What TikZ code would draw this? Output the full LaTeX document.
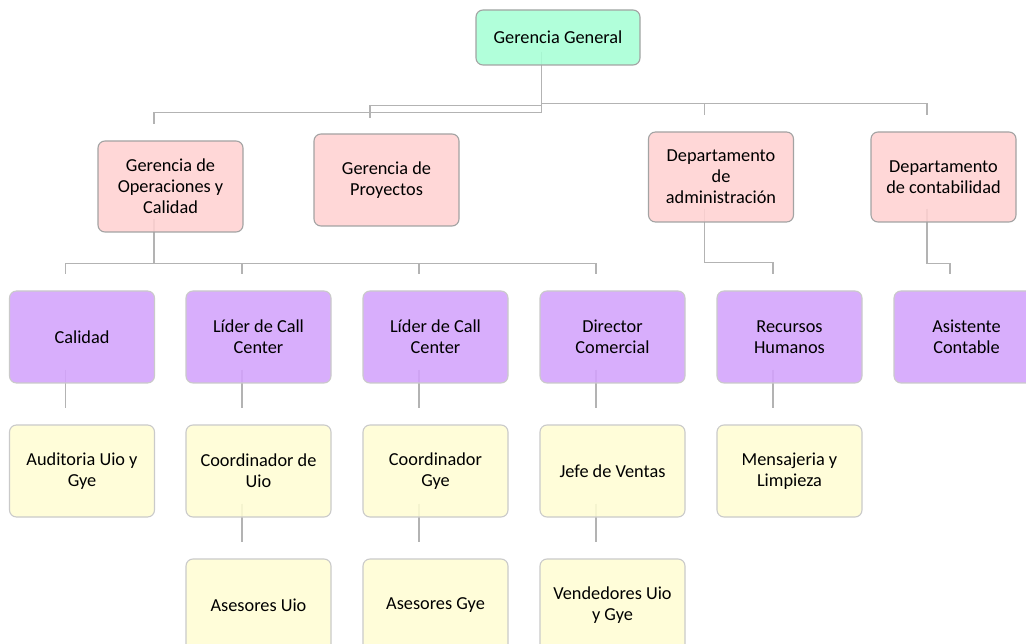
\documentclass[tikz,border=0pt]{standalone}
\usepackage{fontspec}
\setmainfont{Carlito}
\usetikzlibrary{calc}
\definecolor{ggfill}{HTML}{A6FFD5}
\definecolor{pkfill}{HTML}{FFD1D1}
\definecolor{pufill}{HTML}{D3A3FC}
\definecolor{yefill}{HTML}{FFFDD4}
\definecolor{bdark}{HTML}{A3A3A3}
\definecolor{blight}{HTML}{CACACA}
\definecolor{conncol}{HTML}{B3B3B3}
\tikzset{
  box/.style={rectangle, rounded corners=7pt, line width=1.1pt, align=center,
    inner sep=0pt, minimum width=145pt, minimum height=92pt, fill opacity=0.88,
    text opacity=1, font=\fontsize{18.3}{21}\selectfont},
  gbox/.style={box, draw=bdark, fill=ggfill, minimum width=164pt, minimum height=55pt},
  pbox/.style={box, draw=bdark, fill=pkfill, minimum height=91pt},
  ubox/.style={box, draw=blight, fill=pufill},
  ybox/.style={box, draw=blight, fill=yefill},
  conn/.style={draw=conncol, line width=1.5pt}
}
\begin{document}
\begin{tikzpicture}[x=1pt,y=-1pt]
\useasboundingbox (0,0) rectangle (1026,644);
% invisible placeholders to get anchors first
\path node[gbox, draw=none, fill=none, text opacity=0] (gg) at (558,37.5) {};
\path node[pbox, draw=none, fill=none] (ops) at (170.5,186.5) {};
\path node[pbox, draw=none, fill=none] (proy) at (386.5,180) {};
\path node[pbox, draw=none, fill=none, minimum height=90pt] (adm) at (721,177) {};
\path node[pbox, draw=none, fill=none, minimum height=90pt] (cont) at (943.5,177) {};
\foreach \n/\x in {cal/82,lid1/258.5,lid2/435.5,dir/612.5,rrhh/789.5,asis/966.5}
  \path node[ubox, draw=none, fill=none] (\n) at (\x,337) {};
\foreach \n/\x in {aud/82,coo1/258.5,coo2/435.5,jefe/612.5,mens/789.5}
  \path node[ybox, draw=none, fill=none] (\n) at (\x,471) {};
\foreach \n/\x in {ase1/258.5,ase2/435.5,vend/612.5}
  \path node[ybox, draw=none, fill=none] (\n) at (\x,605) {};
% connector end points
\foreach \n in {gg,ops,adm,cont,cal,lid1,lid2,dir,rrhh,coo1,coo2,jefe}
  \coordinate (\n-o) at ([xshift=-16.5pt,yshift=14pt]\n.south);
\foreach \n in {ops,proy,adm,cont,cal,lid1,lid2,dir,rrhh,asis,aud,coo1,coo2,jefe,mens,ase1,ase2,vend}
  \coordinate (\n-i) at ([xshift=-16.5pt,yshift=16pt]\n.north);
% connectors
\draw[conn] (gg-o) -- ++(0,61) -| (ops-i);
\draw[conn] (gg-o) ++(0,54) -| (proy-i);
\draw[conn] (gg-o) ++(0,52) -| (adm-i);
\draw[conn] (gg-o) ++(0,52) -| (cont-i);
\draw[conn] (ops-o) -- ++(0,45) -| (cal-i);
\draw[conn] (ops-o) ++(0,45) -| (lid1-i);
\draw[conn] (ops-o) ++(0,45) -| (lid2-i);
\draw[conn] (ops-o) ++(0,45) -| (dir-i);
\draw[conn] (adm-o) -- ++(0,54) -| (rrhh-i);
\draw[conn] (cont-o) -- ++(0,55) -| (asis-i);
\draw[conn] (cal-o) -- (aud-i);
\draw[conn] (lid1-o) -- (coo1-i);
\draw[conn] (lid2-o) -- (coo2-i);
\draw[conn] (dir-o) -- (jefe-i);
\draw[conn] (rrhh-o) -- (mens-i);
\draw[conn] (coo1-o) -- (ase1-i);
\draw[conn] (coo2-o) -- (ase2-i);
\draw[conn] (jefe-o) -- (vend-i);
% boxes
\node[gbox] at (gg) {Gerencia General};
\node[pbox] at (ops) {Gerencia de\\Operaciones y\\Calidad};
\node[pbox, minimum height=92pt] at (proy) {Gerencia de\\Proyectos};
\node[pbox, minimum height=90pt] at (adm) {Departamento\\de\\administración};
\node[pbox, minimum height=90pt] at (cont) {Departamento\\de contabilidad};
\node[ubox] at (cal) {Calidad};
\node[ubox] at (lid1) {Líder de Call\\Center};
\node[ubox] at (lid2) {Líder de Call\\Center};
\node[ubox] at (dir) {Director\\Comercial};
\node[ubox] at (rrhh) {Recursos\\Humanos};
\node[ubox] at (asis) {Asistente\\Contable};
\node[ybox] at (aud) {Auditoria Uio y\\Gye};
\node[ybox] at (coo1) {Coordinador de\\Uio};
\node[ybox] at (coo2) {Coordinador\\Gye};
\node[ybox] at (jefe) {Jefe de Ventas};
\node[ybox] at (mens) {Mensajeria y\\Limpieza};
\node[ybox] at (ase1) {Asesores Uio};
\node[ybox] at (ase2) {Asesores Gye};
\node[ybox] at (vend) {Vendedores Uio\\y Gye};
\end{tikzpicture}
\end{document}
